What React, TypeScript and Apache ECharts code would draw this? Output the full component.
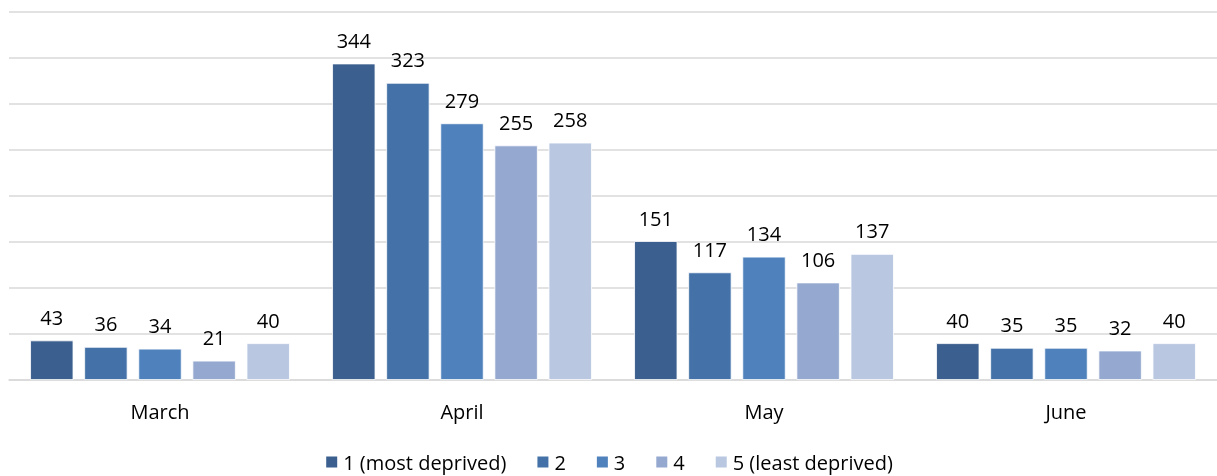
import React, { useEffect, useRef } from "react";
import * as echarts from "echarts";

const categories = ["March", "April", "May", "June"];
const seriesNames = ["1 (most deprived)", "2", "3", "4", "5 (least deprived)"];
const q1 = [43, 344, 151, 40];
const q2 = [36, 323, 117, 35];
const q3 = [34, 279, 134, 35];
const q4 = [21, 255, 106, 32];
const q5 = [40, 258, 137, 40];
const colors = ["#3B5F8E", "#4472A8", "#4F81BD", "#95A9D0", "#B9C7E1"];

export default function App() {
  const ref = useRef<HTMLDivElement>(null);
  useEffect(() => {
    const chart = echarts.init(ref.current!, undefined, { renderer: "svg" });
    const data = [q1, q2, q3, q4, q5];
    const font = "Open Sans";
    const fs = 20;
    chart.setOption({
      animation: false,
      textStyle: { fontFamily: font },
      grid: { left: 9, right: 0, top: 12, bottom: 96, containLabel: false },
      legend: {
        top: 452,
        left: "center",
        itemWidth: 13,
        itemHeight: 13,
        itemGap: 29,
        padding: 0,
        icon: "rect",
        textStyle: { fontSize: fs, lineHeight: 20, color: "#000", fontFamily: font },
        data: seriesNames,
      },
      xAxis: {
        type: "category",
        data: categories,
        axisLine: { lineStyle: { color: "#D9D9D9", width: 1.5 } },
        axisTick: { show: false },
        axisLabel: { fontSize: fs, color: "#000", margin: 21, fontFamily: font },
      },
      yAxis: {
        type: "value",
        min: 0,
        max: 400,
        interval: 50,
        axisLabel: { show: false },
        axisLine: { show: false },
        axisTick: { show: false },
        splitLine: { lineStyle: { color: "#D9D9D9", width: 1.5 } },
      },
      series: data.map((d, i) => ({
        name: seriesNames[i],
        type: "bar",
        data: d,
        barGap: "25%",
        barCategoryGap: "14%",
        itemStyle: { color: colors[i], borderColor: "#fff", borderWidth: 0.8 },
        label: {
          show: true,
          position: "top",
          distance: 13,
          fontSize: fs,
          color: "#000",
          fontFamily: font,
        },
      })),
    });
    return () => chart.dispose();
  }, []);
  return (
    <div
      ref={ref}
      style={{ position: "fixed", left: 0, top: 0, width: 1217, height: 476 }}
    />
  );
}
